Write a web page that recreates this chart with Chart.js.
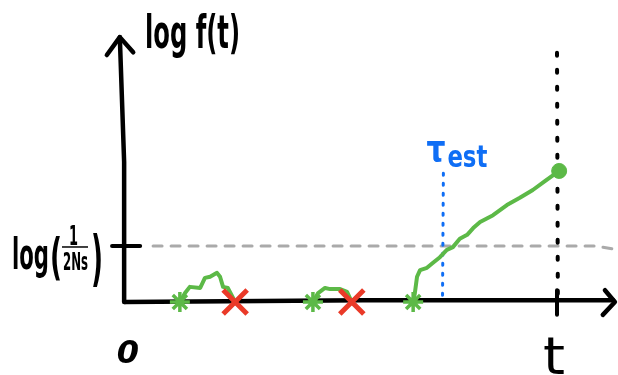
<!DOCTYPE html>
<html>
<head>
<meta charset="utf-8">
<script src="https://cdn.jsdelivr.net/npm/chart.js@4/dist/chart.umd.min.js"></script>
<style>
html,body{margin:0;padding:0;background:#fff;}
#wrap{width:618px;height:375px;position:relative;}
</style>
</head>
<body>
<div id="wrap"><canvas id="c" width="618" height="375"></canvas></div>
<script>
// ---- data (time units: t = 10 ; log f units: threshold log(1/2Ns) = 1) ----
const T_END = 10;
const THRESHOLD = 1;
const TAU_EST = 7.37;

// trajectory 1 (lost)
const traj1X = [1.27, 1.39, 1.50, 1.74, 1.85, 1.97, 2.13, 2.20, 2.27, 2.38, 2.55];
const traj1Y = [0.00, 0.16, 0.27, 0.25, 0.43, 0.45, 0.52, 0.45, 0.27, 0.25, 0.00];
// trajectory 2 (lost)
const traj2X = [4.35, 4.47, 4.63, 4.75, 4.98, 5.14, 5.25];
const traj2Y = [0.00, 0.16, 0.25, 0.23, 0.23, 0.18, 0.00];
// trajectory 3 (established)
const traj3X = [6.67, 6.71, 6.76, 6.83, 6.99, 7.13, 7.29, 7.45, 7.59, 7.75, 7.92, 8.06, 8.22, 8.52, 8.84, 9.14, 9.44, 9.72, 10.05];
const traj3Y = [0.00, 0.16, 0.45, 0.57, 0.61, 0.70, 0.80, 0.93, 0.98, 1.13, 1.20, 1.32, 1.43, 1.55, 1.73, 1.86, 2.00, 2.16, 2.34];

// mutation origins (stars) and losses (crosses)
const originX = [1.27, 4.35, 6.67];
const lossX = [2.55, 5.25];

// axes sketch geometry in data units
const yAxisX = [0, -0.02, -0.12];
const yAxisY = [0, 2.5, 4.73];
const yArrowX = [-0.42, -0.12, 0.19];
const yArrowY = [4.41, 4.73, 4.46];
const xAxisX = [0, 5.5, 11.3];
const xAxisY = [0, 0.03, 0.03];
const xArrowX = [11.11, 11.34, 11.06];
const xArrowY = [0.21, 0.0, -0.23];
const thrX = [0.65, 10.9, 11.41];
const thrY = [THRESHOLD, THRESHOLD, 0.93];

const pts = (xs, ys) => xs.map((x, i) => ({x, y: ys[i]}));

const BLACK = '#000000';
const GREEN = '#5cb947';
const RED = '#ea3a28';
const BLUE = '#0f6ef5';
const GRAY = '#aaaaaa';

const line = (data, color, width, extra) => Object.assign({
  data, showLine: true, borderColor: color, backgroundColor: color,
  borderWidth: width, pointRadius: 0, fill: false, tension: 0,
  borderCapStyle: 'round', borderJoinStyle: 'round'
}, extra || {});

const fontStack = '"Liberation Sans Narrow","DejaVu Sans Condensed","DejaVu Sans",sans-serif';

function fitText(ctx, text, left, baseline, width, size, color, weight) {
  ctx.save();
  ctx.font = (weight || 'bold') + ' ' + size + 'px ' + fontStack;
  ctx.fillStyle = color;
  ctx.textBaseline = 'alphabetic';
  ctx.textAlign = 'left';
  const w = ctx.measureText(text).width;
  ctx.translate(left, baseline);
  ctx.scale(width / w, 1);
  ctx.fillText(text, 0, 0);
  ctx.restore();
}

const labels = {
  id: 'labels',
  afterDatasetsDraw(chart) {
    const ctx = chart.ctx;
    const xs = chart.scales.x, ys = chart.scales.y;
    const px = v => xs.getPixelForValue(v);
    const py = v => ys.getPixelForValue(v);
    // y axis title
    fitText(ctx, 'log f(t)', 145, 48, 95, 46, BLACK);
    // threshold label log(1/2Ns)
    const thY = py(THRESHOLD);
    fitText(ctx, 'log', 12, thY + 23, 37, 42, BLACK);
    fitText(ctx, '(', 50, thY + 28, 12, 50, BLACK);
    fitText(ctx, '1', 69, thY - 1, 9, 26, BLACK);
    ctx.save();
    ctx.strokeStyle = BLACK; ctx.lineWidth = 1.5;
    ctx.beginPath(); ctx.moveTo(62, thY + 1); ctx.lineTo(88, thY + 1); ctx.stroke();
    ctx.restore();
    fitText(ctx, '2Ns', 63, thY + 24, 25, 25, BLACK);
    fitText(ctx, ')', 91, thY + 33, 12, 60, BLACK);
    // origin and t
    const x0 = px(0), y0 = py(0);
    ctx.save();
    ctx.font = 'italic bold 32px ' + '"DejaVu Sans",sans-serif';
    ctx.fillStyle = BLACK; ctx.textAlign = 'center'; ctx.textBaseline = 'alphabetic';
    ctx.fillText('0', x0 + 3, y0 + 61);
    ctx.restore();
    fitText(ctx, 't', px(T_END) - 14, y0 + 72, 22, 52, BLACK, 'normal');
    // tau_est
    const tx = px(TAU_EST);
    ctx.save();
    ctx.font = 'bold 38px "DejaVu Sans",sans-serif';
    ctx.fillStyle = BLUE; ctx.textAlign = 'left'; ctx.textBaseline = 'alphabetic';
    const tw = ctx.measureText('τ').width;
    ctx.translate(tx - 17, 161);
    ctx.scale(19 / tw, 1);
    ctx.fillText('τ', 0, 0);
    ctx.restore();
    fitText(ctx, 'est', tx + 4, 167, 40, 30, BLUE);
  }
};

new Chart(document.getElementById('c'), {
  type: 'scatter',
  data: {
    datasets: [
      line(pts(thrX, thrY), GRAY, 3, {borderDash: [9, 9], order: 20}),
      line([{x: T_END, y: 4.45}, {x: T_END + 0.02, y: 0}], BLACK, 4, {borderDash: [3, 14], order: 19}),
      line([{x: TAU_EST, y: 2.3}, {x: TAU_EST - 0.02, y: 0.09}], BLUE, 3, {borderDash: [2, 8], order: 18}),
      line(pts(yAxisX, yAxisY), BLACK, 4.5, {order: 15}),
      line(pts(yArrowX, yArrowY), BLACK, 4.5, {order: 15}),
      line(pts(xAxisX, xAxisY), BLACK, 4.5, {order: 15}),
      line(pts(xArrowX, xArrowY), BLACK, 4.5, {order: 15}),
      line([{x: -0.30, y: THRESHOLD}, {x: 0.35, y: THRESHOLD}], BLACK, 4, {order: 15}),
      line([{x: T_END, y: 0.21}, {x: T_END, y: -0.23}], BLACK, 4, {order: 15}),
      line(pts(traj1X, traj1Y), GREEN, 4, {order: 5}),
      line(pts(traj2X, traj2Y), GREEN, 4, {order: 5}),
      line(pts(traj3X, traj3Y), GREEN, 4, {order: 5}),
      {data: originX.map(x => ({x, y: 0})), pointStyle: 'star', pointRadius: 10,
       borderColor: GREEN, backgroundColor: GREEN, pointBorderWidth: 3.5, showLine: false, order: 2},
      {data: lossX.map(x => ({x, y: 0})), pointStyle: 'crossRot', pointRadius: 17,
       borderColor: RED, backgroundColor: RED, pointBorderWidth: 5, showLine: false, order: 1},
      {data: [{x: traj3X[traj3X.length - 1], y: traj3Y[traj3Y.length - 1]}], pointStyle: 'circle',
       pointRadius: 7.5, borderColor: GREEN, backgroundColor: GREEN, showLine: false, order: 1}
    ]
  },
  options: {
    responsive: false,
    animation: false,
    events: [],
    layout: {padding: 0, autoPadding: false},
    plugins: {legend: {display: false}, tooltip: {enabled: false}},
    scales: {
      x: {type: 'linear', display: false, min: -2.8935, max: 11.412},
      y: {type: 'linear', display: false, min: -1.304, max: 5.393}
    }
  },
  plugins: [labels]
});
</script>
</body>
</html>
